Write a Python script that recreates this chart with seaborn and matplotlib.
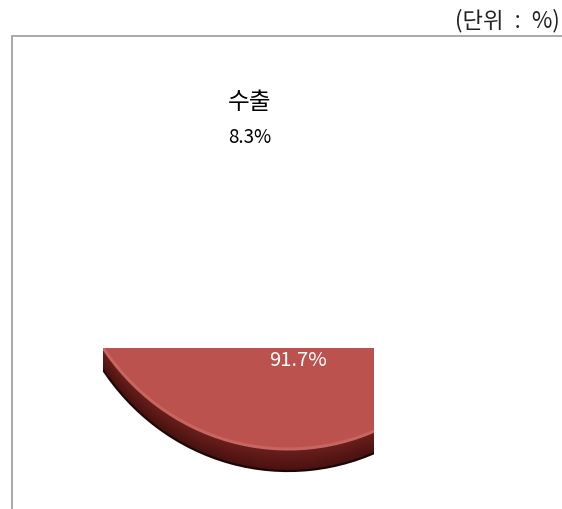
import matplotlib
matplotlib.use("Agg")
import matplotlib.pyplot as plt
from matplotlib.lines import Line2D
from matplotlib.patches import Rectangle
import numpy as np
import seaborn as sns

# Share of sales (unit: %)
categories = ["수출", ""]
shares = [8.3, 91.7]
value_labels = ["8.3%", "91.7%"]
unit_note = "(단위\u2002:\u2002%)"

sns.set_theme(style="white")
plt.rcParams["font.family"] = ["Noto Sans CJK KR", "DejaVu Sans"]

W, H = 562, 510
fig = plt.figure(figsize=(W / 100, H / 100), dpi=100)
fig.patch.set_facecolor("white")
ax = fig.add_axes([0, 0, 1, 1])

# pie geometry (pixels): centre, horizontal / vertical radius, thickness
cx, cy = 288, 215
rx, ry = 225, 235
depth = 22

face_colors = ["#7f8fa6", "#bb524e"]
side_top = np.array([0x6c, 0x20, 0x1d]) / 255
side_bot = np.array([0x48, 0x11, 0x0f]) / 255

# visible window of the pie
clip = Rectangle((103 / W, 0), (374 - 103) / W, (H - 349) / H,
                 transform=ax.transAxes, facecolor="none", edgecolor="none")
ax.add_patch(clip)


def clipped(wedges):
    for w in wedges:
        w.set_clip_on(True)
        w.set_clip_path(clip)


steps = 24
for k in range(steps, 0, -1):
    t = k / steps
    col = side_top * (1 - t) + side_bot * t
    wedges, _ = ax.pie(shares, startangle=90, counterclock=False,
                       radius=1, center=(0, -t * depth / ry),
                       colors=[col, col], frame=True,
                       wedgeprops=dict(linewidth=0))
    clipped(wedges)

# dark rim under the edge
wedges, _ = ax.pie(shares, startangle=90, counterclock=False,
                   radius=1, center=(0, -depth / ry), colors=["none", "none"],
                   frame=True,
                   wedgeprops=dict(linewidth=1.6, edgecolor="#1e0605"))
clipped(wedges)

# top face with a lighter bevel
wedges, _ = ax.pie(shares, startangle=90, counterclock=False,
                   radius=1, center=(0, 0), colors=face_colors, frame=True,
                   wedgeprops=dict(linewidth=2.2, edgecolor="#c76660"))
clipped(wedges)
wedges, _ = ax.pie(shares, startangle=90, counterclock=False,
                   radius=0.99, center=(0, 0), colors=face_colors, frame=True,
                   wedgeprops=dict(linewidth=0))
clipped(wedges)

ax.set_aspect("auto")
ax.set_xlim(-cx / rx, (W - cx) / rx)
ax.set_ylim(-(H - cy) / ry, cy / ry)
ax.axis("off")

# value inside the large slice
ax.text((298 - cx) / rx, (cy - 361) / ry, value_labels[1], color="white",
        fontsize=14.5, ha="center", va="center")

# label of the small slice
fig.text(250 / W, 1 - 103 / H, categories[0], fontsize=17, ha="center",
         va="center", color="black")
fig.text(250 / W, 1 - 138 / H, value_labels[0], fontsize=13.5, ha="center",
         va="center", color="black")

# unit note
fig.text(560 / W, 1 - 21 / H, unit_note, fontsize=16, ha="right",
         va="center", color="#222222")

# plot area border (top and left)
fig.add_artist(Line2D([11.5 / W, 11.5 / W], [0, 1 - 37 / H],
                      transform=fig.transFigure, color="#a8a8a8", lw=1.4))
fig.add_artist(Line2D([11.5 / W, 1], [1 - 37 / H, 1 - 37 / H],
                      transform=fig.transFigure, color="#a8a8a8", lw=1.4))

fig.savefig("out.png", dpi=100, facecolor="white")
